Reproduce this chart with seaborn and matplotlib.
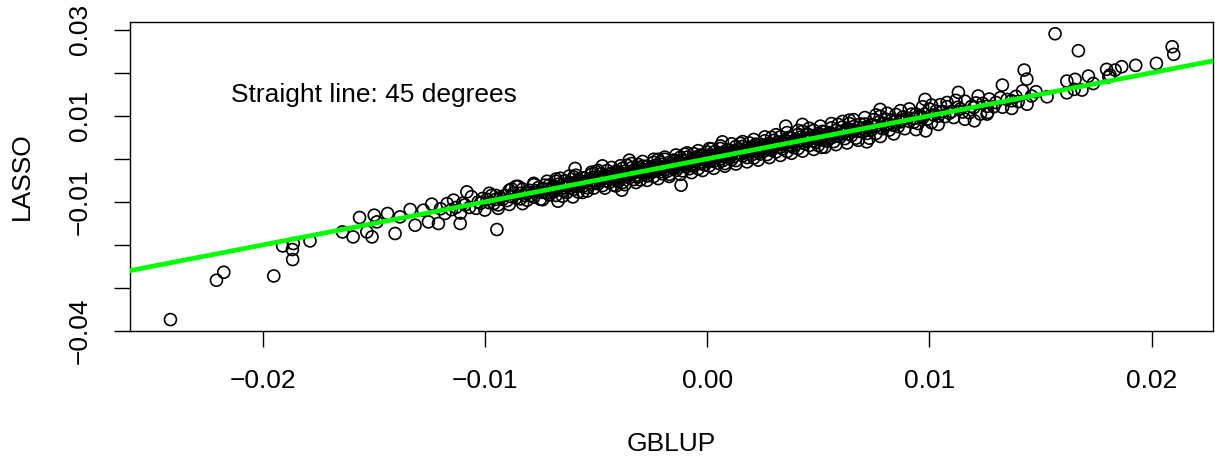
import numpy as np
import pandas as pd
import seaborn as sns
import matplotlib
matplotlib.use("Agg")
import matplotlib.pyplot as plt

# values, in units of 1e-4
# dense band along the diagonal
gblup_band = [
    -120, -118, -117, -115, -113, -111,
    -110, -109, -107, -106, -104, -103, -102, -101,
    -100, -99, -98, -97, -96, -95, -95, -94, -93, -92, -91,
    -90, -89, -89, -88, -87, -86, -85, -84, -84, -83, -82, -81, -81,
    -80, -80, -79, -78, -78, -77, -76, -76, -75, -74, -74, -73, -72, -72, -71, -71,
    -70, -70, -69, -69, -68, -68, -67, -67, -66, -66, -65, -65, -64, -64, -63, -63, -62, -62, -61,
    -60, -60, -59, -59, -58, -58, -57, -57, -56, -56, -55, -55, -54, -54, -53, -53, -52, -52, -51, -51, -51,
    -50, -50, -49, -49, -48, -48, -47, -47, -46, -46, -45, -45, -44, -44, -43, -43, -42, -42, -42, -41, -41, -41,
    -40, -40, -40, -39, -39, -39, -38, -38, -37, -37, -36, -36, -35, -35, -34, -34, -34, -33, -33, -32, -32, -31, -31, -31,
    -30, -30, -30, -29, -29, -29, -28, -28, -27, -27, -26, -26, -25, -25, -24, -24, -24, -23, -23, -22, -22, -21, -21, -21,
    -20, -20, -20, -19, -19, -19, -18, -18, -17, -17, -17, -16, -16, -15, -15, -15, -14, -14, -13, -13, -13, -12, -12, -11, -11, -11,
    -10, -10, -10, -9, -9, -9, -8, -8, -7, -7, -7, -6, -6, -5, -5, -5, -4, -4, -3, -3, -3, -2, -2, -1, -1, -1,
    0, 0, 0, 1, 1, 1, 2, 2, 3, 3, 3, 4, 4, 5, 5, 5, 6, 6, 7, 7, 7, 8, 8, 9, 9, 9,
    10, 10, 10, 11, 11, 11, 12, 12, 13, 13, 14, 14, 15, 15, 16, 16, 16, 17, 17, 18, 18, 19, 19, 19,
    20, 20, 20, 21, 21, 21, 22, 22, 23, 23, 24, 24, 25, 25, 26, 26, 26, 27, 27, 28, 28, 29, 29, 29,
    30, 30, 31, 31, 32, 32, 33, 33, 34, 34, 35, 35, 36, 36, 37, 37, 38, 38, 38, 39, 39, 39,
    40, 40, 41, 41, 42, 42, 43, 43, 44, 44, 45, 45, 46, 46, 47, 47, 48, 48, 49, 49, 49,
    50, 50, 51, 51, 52, 52, 53, 53, 54, 54, 55, 55, 56, 56, 57, 57, 58, 58, 59,
    60, 60, 61, 61, 62, 62, 63, 63, 64, 64, 65, 65, 66, 66, 67, 68, 68, 69,
    70, 70, 71, 72, 72, 73, 74, 74, 75, 76, 76, 77, 78, 78, 79, 79,
    80, 81, 81, 82, 83, 84, 84, 85, 86, 87, 87, 88, 89,
    90, 91, 92, 93, 93, 94, 95, 96, 97, 98, 99,
    100, 101, 102, 103, 104, 105, 106, 107, 108, 109,
    110, 111, 113, 114, 115, 116, 118, 119,
    120, 121, 123, 124, 126, 127, 129,
    130, 132, 133, 135, 137, 139,
    140, 142, 144, 146, 148,
]
lasso_band = [
    -116, -127, -104, -118, -113, -126,
    -103, -107, -113, -88, -115, -100, -103, -92,
    -119, -94, -102, -85, -104, -94, -85, -107, -90, -94, -85,
    -97, -73, -106, -88, -79, -91, -64, -80, -93, -70, -85, -81, -96,
    -73, -78, -85, -60, -89, -74, -77, -67, -94, -69, -78, -61, -80, -71, -61, -84,
    -67, -72, -63, -76, -52, -85, -67, -59, -71, -45, -61, -74, -51, -67, -63, -78, -55, -60, -67,
    -42, -71, -56, -60, -49, -77, -52, -61, -44, -64, -54, -45, -67, -51, -55, -47, -59, -36, -68, -51, -43,
    -55, -29, -45, -58, -35, -51, -47, -62, -39, -44, -51, -27, -55, -41, -44, -34, -61, -37, -46, -29, -49, -40,
    -30, -53, -37, -41, -33, -46, -22, -55, -37, -29, -41, -15, -31, -44, -21, -37, -34, -48, -26, -30, -38, -13, -42, -28,
    -31, -21, -49, -24, -33, -17, -36, -27, -17, -40, -23, -28, -19, -32, -8, -41, -24, -15, -28, -1, -18, -30, -8, -24,
    -20, -35, -13, -17, -25, -1, -29, -15, -18, -8, -36, -11, -20, -3, -23, -14, -4, -27, -10, -15, -7, -19, 4, -28, -11, -3,
    -15, 11, -6, -18, 4, -12, -8, -23, 0, -5, -13, 12, -17, -2, -6, 4, -23, 1, -7, 9, -11, -1, 8, -14, 2, -3,
    6, -7, 16, -16, 1, 9, -3, 23, 7, -6, 16, 1, 4, -10, 12, 7, 0, 24, -4, 10, 6, 17, -11, 14, 5, 21,
    2, 11, 20, -2, 14, 9, 18, 5, 29, -4, 14, 22, 10, 36, 20, 7, 29, 14, 17, 3, 25, 21, 13, 37,
    9, 23, 19, 30, 2, 26, 18, 34, 15, 24, 34, 11, 28, 23, 32, 19, 42, 10, 27, 36, 23, 50, 33, 20,
    43, 27, 31, 16, 39, 34, 27, 51, 23, 37, 34, 44, 17, 41, 33, 49, 30, 39, 48, 26, 42, 37,
    46, 33, 57, 24, 42, 50, 38, 64, 48, 35, 58, 42, 46, 31, 54, 49, 42, 66, 38, 52, 48,
    59, 31, 56, 47, 64, 44, 54, 63, 41, 57, 53, 61, 49, 72, 40, 57, 66, 53, 80,
    64, 51, 74, 58, 62, 47, 70, 65, 58, 82, 54, 68, 65, 75, 48, 73, 64, 81,
    62, 71, 81, 59, 75, 71, 80, 67, 91, 59, 76, 85, 73, 99, 83, 70,
    93, 78, 81, 67, 90, 86, 78, 103, 75, 90, 86, 97, 70,
    95, 87, 104, 85, 94, 104, 82, 99, 95, 104, 92,
    116, 84, 102, 111, 99, 126, 110, 98, 121, 106,
    110, 96, 120, 116, 109, 134, 107, 122,
    119, 130, 104, 129, 122, 139, 121,
    131, 142, 120, 138, 135, 145,
    133, 158, 127, 146, 156,
]

# points on the upper and lower edges of the band
gblup_edge = [-98, -94, -88, -83, -86, -78, -74, -72, -68, -65, -62,
              -59, -56, -52, -54, -49, -46, -43, -41, -39, -37, -34, -32,
              -29, -27, -24, -22, -19, -17, -14, -12, -9, -7, -4, -2,
              1, 3, 6, 8, 11, 13, 16, 18, 21, 23, 26, 28,
              31, 33, 36, 38, 41, 43, 46, 48, 51, 53, 56, 58,
              61, 63, 66, 68, 71, 73, 76, 78, 81, 84, 87,
              91, 94, 97, 101, 104, 108, 112, 116, 122, 126]
lasso_edge = [-80, -115, -70, -104, -64, -57, -95, -52, -47, -87, -40,
              -38, -78, -31, -75, -27, -68, -20, -63, -16, -60, -11, -55,
              -6, -50, -1, -46, 4, -41, 9, -36, 14, -32, 19, -27,
              24, -22, 30, -17, 35, -12, 40, -7, 45, -3, 51, 3,
              56, 8, 61, 13, 66, 18, 71, 22, 76, 27, 82, 33,
              87, 37, 91, 43, 96, 48, 102, 52, 106, 58, 112,
              116, 68, 121, 125, 80, 131, 136, 92, 146, 104]

# scattered points away from the band
gblup_out = [-241.5, -220.8, -217.5, -195.0, -191.0, -186.2, -186.6, -186.5, -178.7, -164.1,
             -159.3, -156.4, -153.1, -150.8, -149.8, -148.6, -143.8, -140.4, -138.2, -133.6,
             -131.4, -127.7, -125.4, -123.9, -120.9, -114.1, -111.1, -108.1, -94.6, -67.1,
             -60.4, -11.7, -38.4, 35.4, 42.9, -59.4, -47.1, -35.0, 6.9, 156.6,
             167.1, 142.7, 143.9, 209.3, 210.0, 202.2, 192.9, 186.6, 183.6, 179.8,
             181.3, 171.6, 165.6, 161.9, 161.9, 165.2, 153.0, 137.1, 132.9, 113.1,
             120.3, 126.3, 98.1, 98.4, 77.9, 64.0, 51.6, 71.9, 180.8, 173.8, 168.7]
lasso_out = [-373.5, -282.1, -263.5, -272.1, -202.3, -196.8, -210.7, -234.0, -190.7, -169.8,
             -181.4, -136.3, -169.8, -181.4, -130.9, -146.5, -127.0, -173.5, -134.9, -117.7,
             -154.2, -119.3, -146.5, -105.3, -150.2, -96.0, -150.2, -76.7, -164.2, -98.4,
             -88.4, -61.2, -72.8, 76.0, 80.0, -22.3, -16.3, -3.0, 39.5, 290.7,
             251.2, 206.3, 185.3, 260.5, 242.8, 221.9, 217.2, 214.0, 206.3, 207.9,
             194.7, 192.3, 184.7, 180.7, 153.5, 161.4, 144.2, 117.2, 171.4, 154.4,
             88.4, 107.9, 138.1, 65.1, 114.9, 90.0, 26.5, 39.5, 190.7, 175.1, 159.8]

x_ticks = [-0.02, -0.01, 0.00, 0.01, 0.02]
x_labels = ["\u22120.02", "\u22120.01", "0.00", "0.01", "0.02"]
y_ticks = [-0.04, -0.03, -0.02, -0.01, 0.00, 0.01, 0.02, 0.03]
y_labels = ["\u22120.04", "", "", "\u22120.01", "", "0.01", "", "0.03"]

df = pd.DataFrame({
    "GBLUP": np.array(gblup_band + gblup_edge + gblup_out) / 1e4,
    "LASSO": np.array(lasso_band + lasso_edge + lasso_out) / 1e4,
})

sns.set_style("white")
plt.rcParams["font.family"] = ["Liberation Sans", "DejaVu Sans"]
plt.rcParams["text.color"] = "black"
plt.rcParams["axes.labelcolor"] = "black"

fig = plt.figure(figsize=(12.15, 4.61), dpi=100)
ax = fig.add_axes([0.1070, 0.2820, 0.8914, 0.6703])

# open circles like R's pch=1
sns.scatterplot(data=df, x="GBLUP", y="LASSO", ax=ax, marker="o", s=74,
                facecolor="none", edgecolor="black", linewidth=1.2)
for coll in ax.collections:
    coll.set_facecolor("none")
    coll.set_edgecolor("black")

# 45 degree line
ax.axline((0, 0), slope=1, color="#00ff00", lw=3.4, zorder=3)

ax.text(-0.015, 0.0148, "Straight line: 45 degrees", ha="center", va="center",
        fontsize=19, color="black")

ax.set_xlim(-0.02597, 0.02277)
ax.set_ylim(-0.0400, 0.0318)
ax.set_xticks(x_ticks)
ax.set_xticklabels(x_labels)
ax.set_yticks(y_ticks)
ax.set_yticklabels(y_labels, rotation=90, va="center")

ax.tick_params(axis="both", direction="out", length=11.5, width=1.0, color="black",
               labelsize=19, labelcolor="black", bottom=True, left=True)
ax.tick_params(axis="x", pad=16)
ax.tick_params(axis="y", pad=16)

for sp in ax.spines.values():
    sp.set_visible(True)
    sp.set_color("black")
    sp.set_linewidth(1.0)

ax.set_xlabel("GBLUP", fontsize=19, color="black")
ax.set_ylabel("LASSO", fontsize=19, color="black")
ax.xaxis.set_label_coords(0.5, -0.327)
ax.yaxis.set_label_coords(-0.089, 0.5)

fig.savefig("out.png", dpi=100, facecolor="white")
